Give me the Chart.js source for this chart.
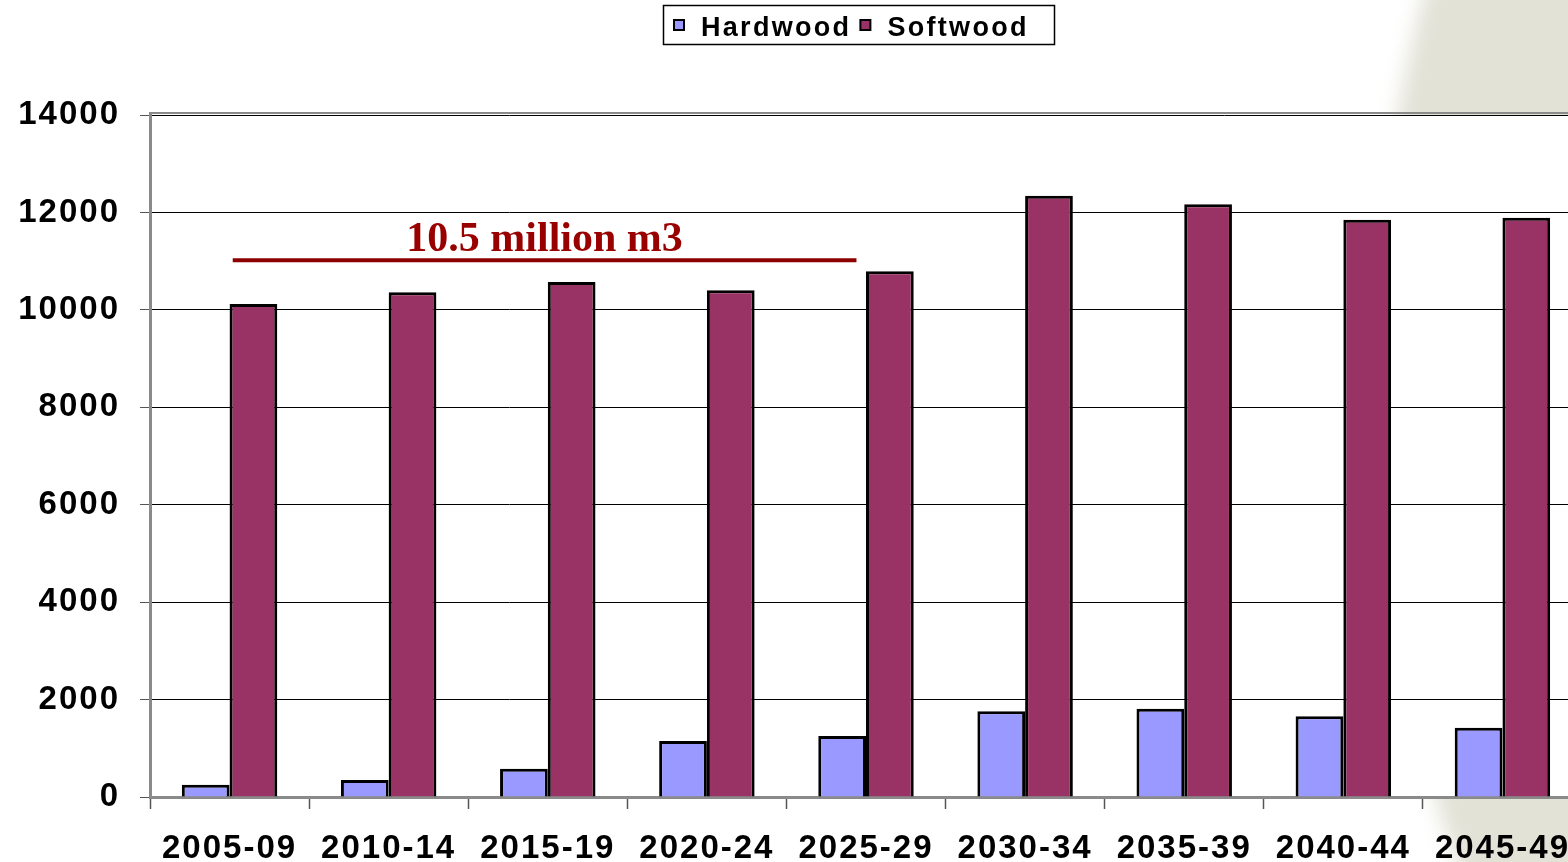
<!DOCTYPE html>
<html>
<head>
<meta charset="utf-8">
<script src="https://cdn.jsdelivr.net/npm/chart.js@4.4.0/dist/chart.umd.min.js"></script>
<style>
  html, body { margin: 0; padding: 0; background: #fff; overflow: hidden; }
  #wrap { position: relative; width: 1600px; height: 862px; }
</style>
</head>
<body>
<div id="wrap"><canvas id="harvestChart"></canvas></div>
<script>
// ── DATA ─────────────────────────────────────────────
const periods = ['2005-09', '2010-14', '2015-19', '2020-24', '2025-29', '2030-34', '2035-39', '2040-44', '2045-49']
const hardwood = [250, 350, 580, 1150, 1250, 1760, 1810, 1660, 1420]
const softwood = [10120, 10360, 10570, 10400, 10790, 12340, 12170, 11850, 11890]
const yTicks = [0, 2000, 4000, 6000, 8000, 10000, 12000, 14000]
const seriesNames = ['Hardwood', 'Softwood']
const seriesColors = ['#9999ff', '#993366']

// average line annotation (category units + value)
const avgLabel = '10.5 million m3'
const avgLevel = 11020
const avgFrom = 0.02
const avgTo = 3.94

const spacing = ctx => { ctx.letterSpacing = '2px' }

// ── PLUGINS ──────────────────────────────────────────
const backdrop = {
  id: 'backdrop',
  beforeUpdate(chart) { spacing(chart.ctx) },
  beforeDraw(chart) {
    const { ctx, width, height, chartArea: a } = chart
    ctx.save()
    ctx.fillStyle = '#fff'
    ctx.fillRect(0, 0, width, height)
    // faint watermark shape on the right
    ctx.filter = 'blur(10px)'
    ctx.fillStyle = '#e3e2d7'
    ctx.beginPath()
    ctx.moveTo(1430, -30)
    ctx.quadraticCurveTo(1300, 450, 1470, 900)
    ctx.lineTo(width + 40, 900)
    ctx.lineTo(width + 40, -30)
    ctx.closePath()
    ctx.fill()
    ctx.filter = 'none'
    ctx.fillStyle = '#fff'
    ctx.fillRect(a.left, a.top, a.right - a.left, a.bottom - a.top)
    ctx.restore()
    spacing(ctx)
  },
  afterDraw(chart) {
    const { ctx, chartArea: a, scales: { x, y } } = chart
    // plot frame top
    ctx.save()
    ctx.strokeStyle = '#8a8a8a'
    ctx.lineWidth = 2
    ctx.beginPath()
    ctx.moveTo(a.left - 1, a.top - 2)
    ctx.lineTo(a.right, a.top - 2)
    ctx.stroke()

    // average line + label
    const step = x.getPixelForValue(1) - x.getPixelForValue(0)
    const x0 = x.getPixelForValue(0) + avgFrom * step
    const x1 = x.getPixelForValue(0) + avgTo * step
    const ly = y.getPixelForValue(avgLevel)
    ctx.strokeStyle = '#8b0000'
    ctx.lineWidth = 4
    ctx.beginPath()
    ctx.moveTo(x0, ly)
    ctx.lineTo(x1, ly)
    ctx.stroke()
    ctx.letterSpacing = '0px'
    ctx.font = 'bold 42px "Liberation Serif", "Times New Roman", serif'
    ctx.fillStyle = '#990000'
    ctx.textAlign = 'center'
    ctx.textBaseline = 'alphabetic'
    ctx.fillText(avgLabel, (x0 + x1) / 2, ly - 9)

    // legend box
    ctx.font = 'bold 27px "Liberation Sans", Arial, sans-serif'
    ctx.letterSpacing = '2.3px'
    ctx.textAlign = 'left'
    ctx.fillStyle = '#fff'
    ctx.fillRect(663, 5, 392, 40)
    ctx.strokeStyle = '#000'
    ctx.lineWidth = 1.5
    ctx.strokeRect(663.5, 5.5, 391, 39)
    let lx = 674
    seriesNames.forEach((name, i) => {
      ctx.fillStyle = seriesColors[i]
      ctx.fillRect(lx, 20, 10, 10)
      ctx.lineWidth = 2
      ctx.strokeRect(lx, 20, 10, 10)
      ctx.fillStyle = '#000'
      ctx.fillText(name, lx + 27, 36)
      lx += 27 + ctx.measureText(name).width + 9
    })
    ctx.restore()
  }
}

// ── CHART ────────────────────────────────────────────
document.addEventListener('DOMContentLoaded', () => {
  const tickFont = { family: '"Liberation Sans", Arial, sans-serif', size: 33, weight: 'bold' }
  new Chart(document.getElementById('harvestChart'), {
    type: 'bar',
    data: {
      labels: periods,
      datasets: [
        { label: seriesNames[0], data: hardwood, backgroundColor: seriesColors[0], borderColor: '#000', borderWidth: 3, borderSkipped: 'bottom' },
        { label: seriesNames[1], data: softwood, backgroundColor: seriesColors[1], borderColor: '#000', borderWidth: 3, borderSkipped: 'bottom' }
      ]
    },
    options: {
      responsive: true,
      maintainAspectRatio: false,
      animation: false,
      layout: { padding: { top: 115, right: 18, left: 0, bottom: 0 } },
      datasets: { bar: { categoryPercentage: 0.6, barPercentage: 1 } },
      plugins: { legend: { display: false }, tooltip: { enabled: false } },
      scales: {
        x: {
          grid: { display: true, drawOnChartArea: false, offset: true, color: '#555', tickLength: 12, tickWidth: 1.5 },
          border: { color: '#8a8a8a', width: 3 },
          ticks: { color: '#000', font: tickFont, padding: 20, maxRotation: 0, autoSkip: false },
          afterFit: s => { s.height = 65 }
        },
        y: {
          min: 0,
          max: 14000,
          afterBuildTicks: s => { s.ticks = yTicks.map(v => ({ value: v })) },
          grid: { color: '#000', lineWidth: 1, tickLength: 10, tickColor: '#555' },
          border: { color: '#8a8a8a', width: 3 },
          ticks: { color: '#000', font: tickFont, padding: 20, callback: v => String(v) },
          afterFit: s => { s.width = 150 }
        }
      }
    },
    plugins: [backdrop]
  })
})
</script>
</body>
</html>
